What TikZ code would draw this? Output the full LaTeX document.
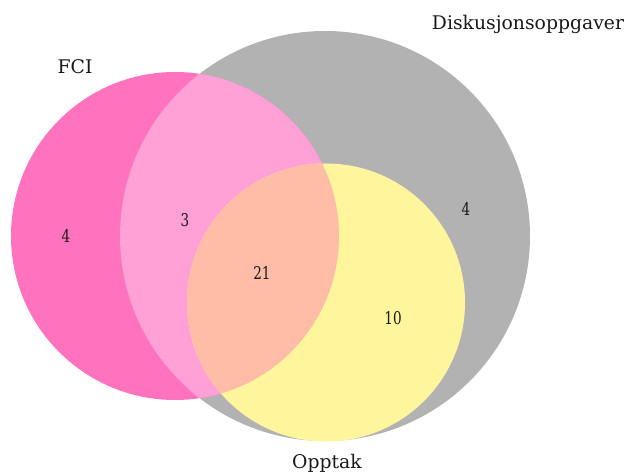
\documentclass[tikz,border=0pt]{standalone}
\usepackage{graphicx}
\usepackage{fontspec}
\setmainfont{DejaVu Serif}
\definecolor{fcionly}{HTML}{FF73BE}
\definecolor{fcidisk}{HTML}{FFA1D6}
\definecolor{alltre}{HTML}{FFBCA6}
\definecolor{opptakdisk}{HTML}{FFF59D}
\definecolor{diskonly}{HTML}{B2B2B2}
\newcommand{\narrow}[1]{\scalebox{0.77}[1]{#1}}
\tikzset{
  setlabel/.style={font=\fontsize{10.7}{12}\selectfont, text=black!90},
  count/.style={font=\fontsize{10}{11}\selectfont, text=black!90}
}
\begin{document}
\begin{tikzpicture}[x=0.02cm,y=-0.02cm]
\useasboundingbox (0,0) rectangle (629,475);

% Diskusjonsoppgaver
\fill[diskonly] (325,236) circle (205);

% FCI
\fill[fcionly] (175,236) circle (164);
\begin{scope}
\clip (175,236) circle (164);
\fill[fcidisk] (325,236) circle (205);
\end{scope}

% Opptak
\fill[opptakdisk] (326,302.5) circle (139);
\begin{scope}
\clip (175,236) circle (164);
\fill[alltre] (326,302.5) circle (139);
\end{scope}

\node[setlabel] (fci) at (75,67) {FCI};
\node[setlabel] (disk) at (528,24) {Diskusjonsoppgaver};
\node[setlabel] (opptak) at (327,463) {Opptak};

\node[count] (a) at (66,236) {\narrow{4}};
\node[count] (ab) at (185,220) {\narrow{3}};
\node[count] (abc) at (262,273) {\narrow{21}};
\node[count] (bc) at (393,318) {\narrow{10}};
\node[count] (b) at (466,209) {\narrow{4}};

\end{tikzpicture}
\end{document}
